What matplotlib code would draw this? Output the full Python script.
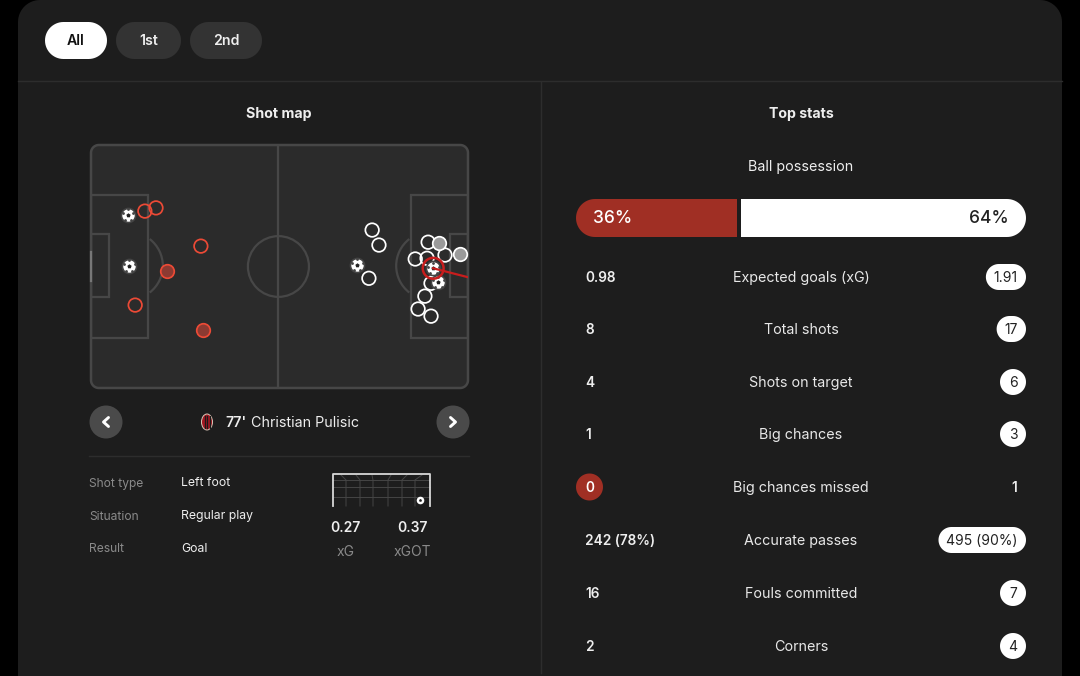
import numpy as np
import matplotlib
matplotlib.use("Agg")
import matplotlib.pyplot as plt
from matplotlib.patches import Circle, Ellipse, Arc, Polygon, Rectangle

plt.rcParams['font.family'] = ['Inter', 'DejaVu Sans']

# cores
BG = '#1d1d1d'
PITCH = '#2b2b2b'
PITCH_LINE = '#474747'
RED = '#ec4a36'
BAR_RED = '#a02f24'
GREY_TEXT = '#8a8a8a'
SEP = '#2d2d2d'

# data
periods = ['All', '1st', '2nd']

home_miss_x = [15.0, 18.1, 30.6, 12.3]
home_miss_y = [18.5, 17.6, 28.3, 44.8]
home_saved_x = [21.2, 31.2]
home_saved_y = [35.3, 51.8]
home_goal_x = [10.3, 10.6]
home_goal_y = [19.6, 33.9]

away_miss_x = [78.3, 80.2, 77.4, 93.9, 98.6, 90.3, 93.6, 94.7, 93.0, 91.1, 94.7]
away_miss_y = [23.8, 28.0, 37.3, 27.2, 30.8, 31.9, 31.7, 38.7, 42.3, 45.9, 47.9]
away_saved_x = [96.9, 102.8]
away_saved_y = [27.5, 30.5]
away_goal_x = [74.1, 96.7, 95.3]
away_goal_y = [33.6, 38.4, 34.5]

selected_x = [95.3, 105]
selected_y = [34.5, 37.0]

possession = [36, 64]

stat_names = ['Expected goals (xG)', 'Total shots', 'Shots on target', 'Big chances',
              'Big chances missed', 'Accurate passes', 'Fouls committed', 'Corners']
stat_home = ['0.98', '8', '4', '1', '0', '242 (78%)', '16', '2']
stat_away = ['1.91', '17', '6', '3', '1', '495 (90%)', '7', '4']
stat_winner = ['away', 'away', 'away', 'away', 'home', 'away', 'away', 'away']

detail_labels = ['Shot type', 'Situation', 'Result']
detail_values = ['Left foot', 'Regular play', 'Goal']


fig = plt.figure(figsize=(10.8, 6.76), dpi=100, facecolor='black')
ax = fig.add_axes([0, 0, 1, 1])
ax.set_xlim(0, 1080)
ax.set_ylim(676, 0)
ax.axis('off')


def rounded(x0, y0, w, h, r, **kw):
    # cantos circulares de verdade (o FancyBboxPatch fica quadrado demais)
    pts = []
    corners = [(x0 + w - r, y0 + r, -90), (x0 + w - r, y0 + h - r, 0), (x0 + r, y0 + h - r, 90), (x0 + r, y0 + r, 180)]
    for cx, cy, start in corners:
        a = np.radians(np.linspace(start, start + 90, 16))
        pts.extend(zip(cx + r * np.cos(a), cy + r * np.sin(a)))
    return Polygon(pts, closed=True, **kw)


def pill(x0, y0, w, h, color, z=2):
    p = rounded(x0, y0, w, h, min(h, w) / 2, fc=color, ec='none', zorder=z)
    ax.add_patch(p)
    return p


# painel
ax.add_patch(rounded(18, 0, 1044, 740, 22, fc=BG, ec='none', zorder=1))
ax.plot([18, 1062], [81, 81], color=SEP, lw=1, zorder=2)
ax.plot([541, 541], [82, 673], color=SEP, lw=1, zorder=2)

# botoes
btn_left = [45, 116, 190]
btn_width = [62, 65, 72]
for i, name in enumerate(periods):
    pill(btn_left[i], 22, btn_width[i], 37, 'white' if i == 0 else '#333333')
    ax.text(btn_left[i] + btn_width[i] / 2, 41, name, ha='center', va='center', fontsize=10.2,
            fontweight='semibold', color='#111111' if i == 0 else '#eeeeee', zorder=3)

ax.text(279, 114, 'Shot map', ha='center', va='center', fontsize=10.2, fontweight='bold', color='#eeeeee')
ax.text(801, 114, 'Top stats', ha='center', va='center', fontsize=10.2, fontweight='bold', color='#eeeeee')
ax.text(801, 167, 'Ball possession', ha='center', va='center', fontsize=10.3, color='#eeeeee')

# posse de bola
clip = pill(576, 199, 450, 38, 'none', z=1)
bar_w = 450 * possession[0] / 100 - 1
b1 = ax.barh([218], [bar_w], left=576, height=38, color=BAR_RED, zorder=3)
b2 = ax.barh([218], [450 - bar_w - 4], left=576 + bar_w + 4, height=38, color='white', zorder=3)
for b in list(b1) + list(b2):
    b.set_clip_path(clip)
ax.text(593, 218.5, f'{possession[0]}%', ha='left', va='center', fontsize=12.5, fontweight='medium', color='white', zorder=4)
ax.text(1009, 218.5, f'{possession[1]}%', ha='right', va='center', fontsize=12.5, fontweight='medium', color='#222222', zorder=4)

# linhas de estatisticas
row_y = [278, 330, 383, 435, 488, 541, 594, 647]
renderer = fig.canvas.get_renderer()
for i, name in enumerate(stat_names):
    y = row_y[i]
    ax.text(801, y, name, ha='center', va='center', fontsize=10.3, color='#e8e8e8', zorder=3)
    if stat_winner[i] == 'away':
        ax.text(585, y, stat_home[i], ha='left', va='center', fontsize=9.8, fontweight='semibold', color='#eeeeee', zorder=3)
        t = ax.text(1026 - 13, y, stat_away[i], ha='center', va='center', fontsize=10, color='#222222', zorder=4)
        w = max(t.get_window_extent(renderer).width + 16, 26)
        t.set_x(1026 - w / 2)
        pill(1026 - w, y - 14, w, 26, 'white', z=3)
    else:
        pill(576, y - 14.5, 27, 27, BAR_RED, z=3)
        ax.text(589.5, y, stat_home[i], ha='center', va='center', fontsize=9.8, fontweight='semibold', color='white', zorder=4)
        ax.text(1014, y, stat_away[i], ha='center', va='center', fontsize=9.8, fontweight='semibold', color='#eeeeee', zorder=3)

# campo
pitch = fig.add_axes([91 / 1080, 1 - 388 / 676, 377 / 1080, 243 / 676])
pitch.set_xlim(0, 105)
pitch.set_ylim(68, 0)
pitch.axis('off')
line = dict(fc='none', ec=PITCH_LINE, lw=1.6, zorder=2)
pitch.add_patch(rounded(0, 0, 105, 68, 2.2, fc=PITCH, ec=PITCH_LINE, lw=1.8, zorder=1, clip_on=False))
pitch.plot([52.2, 52.2], [0, 68], color=PITCH_LINE, lw=1.6, zorder=2)
pitch.add_patch(Ellipse((52.2, 34), 17, 17, **line))
pitch.add_patch(Rectangle((0, 14), 16, 40, **line))
pitch.add_patch(Rectangle((89, 14), 16, 40, **line))
pitch.add_patch(Rectangle((0, 25), 5, 17.6, **line))
pitch.add_patch(Rectangle((100, 25), 5, 17.6, **line))
pitch.add_patch(Arc((10.5, 33.8), 19, 19, theta1=-52, theta2=52, ec=PITCH_LINE, lw=1.6, zorder=2))
pitch.add_patch(Arc((94.5, 33.8), 19, 19, theta1=128, theta2=232, ec=PITCH_LINE, lw=1.6, zorder=2))
pitch.plot([0, 0], [30, 38], color='#777777', lw=1.6, zorder=3, clip_on=False)


def draw_ball(axes, x, y, rad=1.6, s=80, halo=True, z=6):
    if halo:
        axes.scatter([x], [y], s=s * 1.6, c='#444444', linewidths=0, zorder=z)
    axes.scatter([x], [y], s=s, c='white', linewidths=0, zorder=z + 1)
    axes.scatter([x], [y], s=s * 0.13, c='#222222', marker='p', linewidths=0, zorder=z + 2)
    ang = np.radians(np.arange(5) * 72 - 90)
    axes.scatter(x + rad * np.cos(ang), y + rad * np.sin(ang), s=s * 0.05, c='#444444', linewidths=0, zorder=z + 2)


pitch.scatter(home_miss_x, home_miss_y, s=95, fc='none', ec=RED, lw=1.25, zorder=5)
pitch.scatter(home_saved_x, home_saved_y, s=95, fc='#8c3a32', ec=RED, lw=1.25, zorder=5)
pitch.scatter(away_miss_x, away_miss_y, s=95, fc='none', ec='white', lw=1.25, zorder=5)
pitch.scatter(away_saved_x, away_saved_y, s=95, fc='#9a9a9a', ec='white', lw=1.25, zorder=5)
for gx, gy in zip(home_goal_x + away_goal_x, home_goal_y + away_goal_y):
    draw_ball(pitch, gx, gy)
pitch.plot(selected_x, selected_y, color='#c81d1d', lw=1.6, zorder=8)
pitch.scatter(selected_x[:1], selected_y[:1], s=225, fc='none', ec='#c81d1d', lw=1.8, zorder=9)

# navegacao
for cx, chev in [(106, -1), (453, 1)]:
    ax.add_patch(Circle((cx, 422), 16.5, fc='#4a4a4a', ec='none', zorder=2))
    ax.plot([cx - chev * 2.5, cx + chev * 2.5, cx - chev * 2.5], [417.5, 422, 426.5], color='white', lw=2.1,
            solid_capstyle='round', solid_joinstyle='round', zorder=3)

# escudo
ax.add_patch(Ellipse((207, 422), 11, 16, fc='#a31621', ec='#d9c8b8', lw=0.7, zorder=3))
for sx in [204.5, 207, 209.5]:
    ax.plot([sx, sx], [416, 428], color='#1a1a1a', lw=0.9, zorder=4)

ax.text(225, 423, "77'", ha='left', va='center', fontsize=10.2, fontweight='semibold', color='#eeeeee')
ax.text(251, 423, 'Christian Pulisic', ha='left', va='center', fontsize=10.3, color='#eeeeee')
ax.plot([89, 469], [455.5, 455.5], color=SEP, lw=1, zorder=2)

detail_y = [483.5, 516.5, 549.5]
for lbl, val, y in zip(detail_labels, detail_values, detail_y):
    ax.text(89, y, lbl, ha='left', va='center', fontsize=8.7, color=GREY_TEXT)
    ax.text(181, y, val, ha='left', va='center', fontsize=8.8, color='#eeeeee')

# gol
net_top = [341, 356, 372, 391, 407, 422]
net_bottom = [346, 360, 373, 388, 402, 415]
for tx, bx in zip(net_top, net_bottom):
    ax.plot([tx, bx, bx], [475, 480, 506], color='#454545', lw=0.7, zorder=2)
for gy in [480, 487, 497]:
    ax.plot([333, 430], [gy, gy], color='#454545', lw=0.7, zorder=2)
ax.plot([333, 333, 430, 430], [506, 474, 474, 506], color='#d8d8d8', lw=1.3, zorder=3)
ax.scatter([420], [500], s=30, c='white', linewidths=0, zorder=4)
ax.scatter([420], [500], s=5, c='#222222', marker='p', linewidths=0, zorder=5)

ax.text(345.5, 527.5, '0.27', ha='center', va='center', fontsize=10, fontweight='semibold', color='#eeeeee')
ax.text(412, 527.5, '0.37', ha='center', va='center', fontsize=10, fontweight='semibold', color='#eeeeee')
ax.text(345.5, 551.5, 'xG', ha='center', va='center', fontsize=10, color=GREY_TEXT)
ax.text(412, 551.5, 'xGOT', ha='center', va='center', fontsize=10, color=GREY_TEXT)

fig.savefig('out.png', dpi=100, facecolor='black')
